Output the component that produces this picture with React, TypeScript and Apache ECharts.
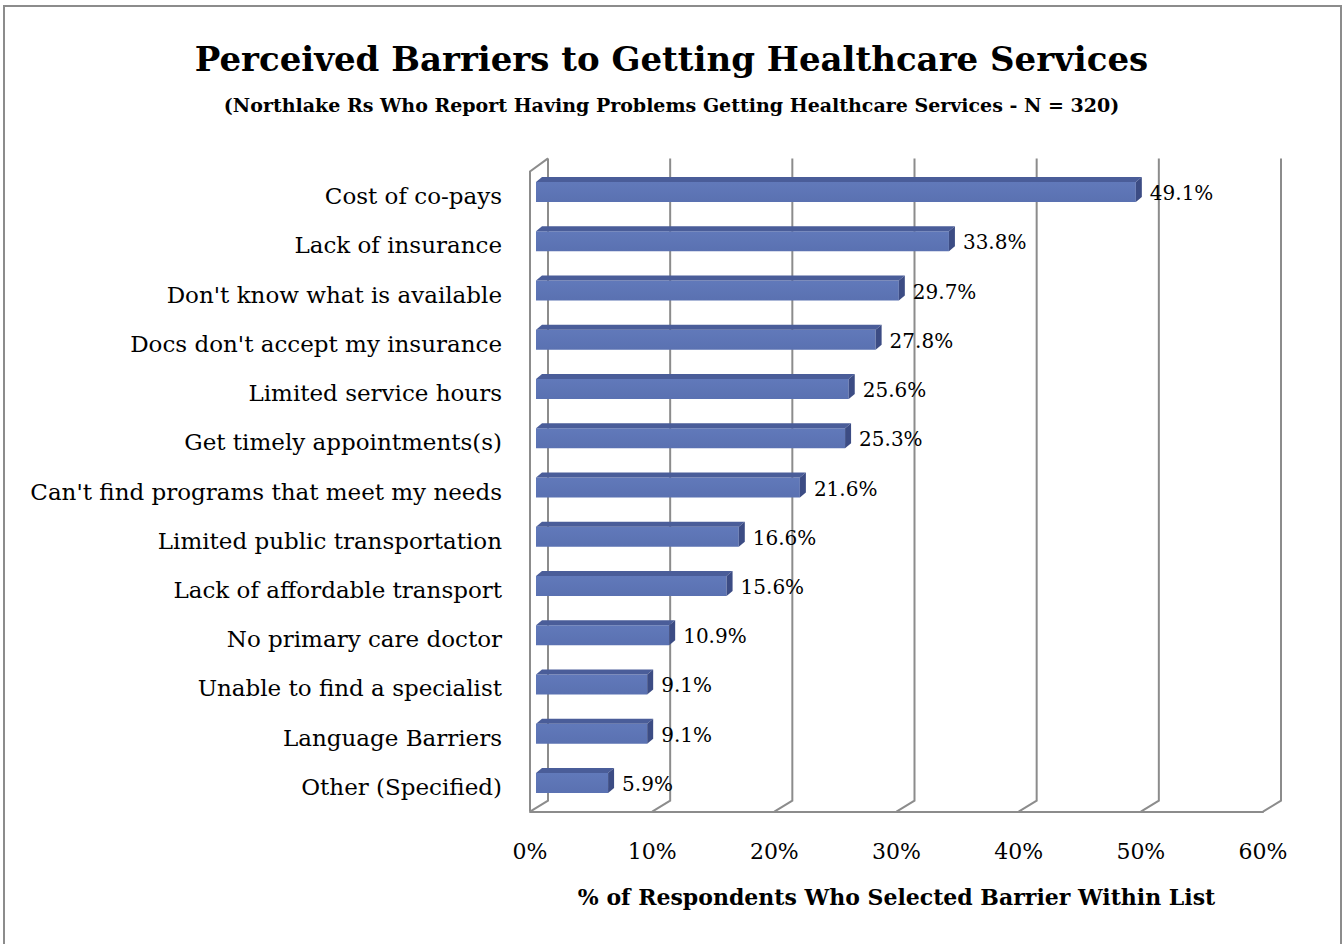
import React, { useEffect, useRef } from "react";
import * as echarts from "echarts";

const categories = [
  "Cost of co-pays",
  "Lack of insurance",
  "Don't know what is available",
  "Docs don't accept my insurance",
  "Limited service hours",
  "Get timely appointments(s)",
  "Can't find programs that meet my needs",
  "Limited public transportation",
  "Lack of affordable transport",
  "No primary care doctor",
  "Unable to find a specialist",
  "Language Barriers",
  "Other (Specified)",
];
const values = [49.1, 33.8, 29.7, 27.8, 25.6, 25.3, 21.6, 16.6, 15.6, 10.9, 9.1, 9.1, 5.9];
const xTicks = [0, 10, 20, 30, 40, 50, 60];

const titleText = "Perceived Barriers to Getting Healthcare Services";
const subtitleText = "(Northlake Rs Who Report Having Problems Getting Healthcare Services - N = 320)";
const xAxisName = "% of Respondents Who Selected Barrier Within List";

const FONT = "'DejaVu Serif', 'Liberation Serif', serif";
const GRID_COLOR = "#8c8c8c";

export default function App() {
  const ref = useRef<HTMLDivElement>(null);
  useEffect(() => {
    if (!ref.current) return;
    const chart = echarts.init(ref.current, null, { renderer: "svg" });
    const option: any = {
      animation: false,
      backgroundColor: "#ffffff",
      title: [
        {
          text: titleText,
          left: "center",
          top: 37,
          textStyle: { fontFamily: FONT, fontSize: 34, fontWeight: "bold", color: "#000" },
        },
        {
          text: subtitleText,
          left: "center",
          top: 90,
          textStyle: { fontFamily: FONT, fontSize: 19, fontWeight: "bold", color: "#000" },
        },
      ],
      graphic: [
        {
          type: "rect",
          shape: { x: 4, y: 6, width: 1337, height: 960 },
          style: { fill: "none", stroke: GRID_COLOR, lineWidth: 2 },
          silent: true,
          z: -10,
        },
      ],
      grid: { left: 530, right: 80, top: 171.4, bottom: 132.4 },
      xAxis: {
        type: "value",
        min: 0,
        max: 60,
        interval: 10,
        axisLine: { show: true, lineStyle: { color: GRID_COLOR, width: 2 } },
        axisTick: { show: false },
        splitLine: { show: false },
        axisLabel: {
          formatter: "{value}%",
          fontFamily: FONT,
          fontSize: 22,
          color: "#000",
          margin: 29,
        },
        name: xAxisName,
        nameLocation: "middle",
        nameGap: 74,
        nameTextStyle: { fontFamily: FONT, fontSize: 22, fontWeight: "bold", color: "#000" },
      },
      yAxis: {
        type: "category",
        data: categories,
        inverse: true,
        axisLine: { show: false },
        axisTick: { show: false },
        splitLine: { show: false },
        axisLabel: { fontFamily: FONT, fontSize: 23, color: "#000", margin: 28 },
      },
      series: [
        {
          type: "custom",
          z: 1,
          clip: false,
          silent: true,
          data: xTicks.map((t) => [t, 0]),
          encode: { x: 0, y: 1 },
          renderItem: (params: any, api: any) => {
            const v = api.value(0);
            const p = api.coord([v, 0]);
            const cs = params.coordSys;
            const top = cs.y;
            const bottom = cs.y + cs.height;
            const x = p[0];
            const children: any[] = [
              {
                type: "polyline",
                shape: {
                  points: [
                    [x, bottom],
                    [x + 18, bottom - 11],
                    [x + 18, top - 13],
                  ],
                },
                style: { stroke: GRID_COLOR, lineWidth: 2, fill: "none" },
              },
            ];
            if (v === 0) {
              children.push({
                type: "polyline",
                shape: {
                  points: [
                    [x, bottom],
                    [x, top],
                    [x + 18, top - 13],
                  ],
                },
                style: { stroke: GRID_COLOR, lineWidth: 2, fill: "none" },
              });
            }
            return { type: "group", children };
          },
        },
        {
          type: "custom",
          z: 2,
          clip: false,
          data: values.map((v, i) => [v, i]),
          encode: { x: 0, y: 1 },
          renderItem: (params: any, api: any) => {
            const v = api.value(0);
            const i = api.value(1);
            const s = api.coord([0, i]);
            const e = api.coord([v, i]);
            const off = 6;
            const dx = 6;
            const dy = 5;
            const h = 20;
            const yc = s[1] - 4;
            const x0 = s[0] + off;
            const x1 = e[0] + off;
            const yt = yc - h / 2;
            const yb = yc + h / 2;
            return {
              type: "group",
              children: [
                {
                  type: "rect",
                  shape: { x: x0, y: yt, width: x1 - x0, height: h },
                  style: {
                    fill: new echarts.graphic.LinearGradient(0, 0, 0, 1, [
                      { offset: 0, color: "#6179ba" },
                      { offset: 1, color: "#5a71b1" },
                    ]),
                  },
                },
                {
                  type: "polygon",
                  shape: {
                    points: [
                      [x0, yt],
                      [x0 + dx, yt - dy],
                      [x1 + dx, yt - dy],
                      [x1, yt],
                    ],
                  },
                  style: { fill: "#4a5d99" },
                },
                {
                  type: "polygon",
                  shape: {
                    points: [
                      [x1, yt],
                      [x1 + dx, yt - dy],
                      [x1 + dx, yb - dy],
                      [x1, yb],
                    ],
                  },
                  style: { fill: "#3c4c84" },
                },
                {
                  type: "text",
                  style: {
                    x: x1 + dx + 8,
                    y: yc + 1,
                    text: v.toFixed(1) + "%",
                    fontFamily: FONT,
                    fontSize: 20,
                    fill: "#000",
                    verticalAlign: "middle",
                    align: "left",
                  },
                },
              ],
            };
          },
        },
      ],
    };
    chart.setOption(option);
    return () => chart.dispose();
  }, []);
  return (
    <div
      ref={ref}
      style={{ position: "fixed", left: 0, top: 0, width: 1343, height: 944, background: "#fff" }}
    />
  );
}
